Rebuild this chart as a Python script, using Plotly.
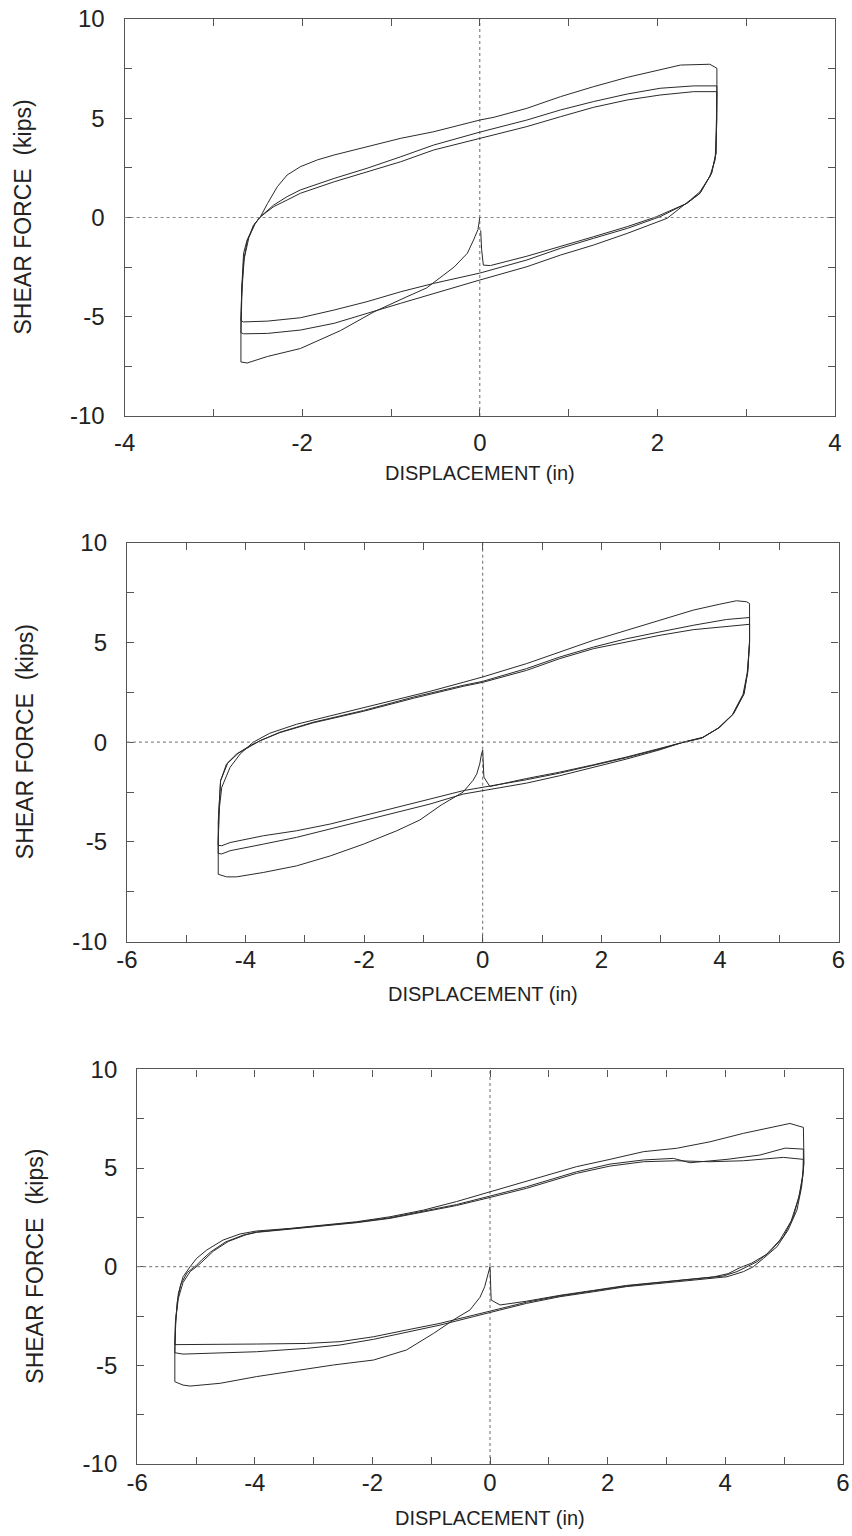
import plotly.graph_objects as go

# ---------------- Panel 1 (displacement range +-4 in) ----------------
p1_initial_x = [0, -0.02, -0.07, -0.14, -0.29, -0.44, -0.6, -0.82, -1.19, -1.57, -2.02, -2.39, -2.62, -2.69]
p1_initial_y = [0, -0.6, -1.13, -1.8, -2.5, -3.0, -3.55, -3.99, -4.75, -5.7, -6.6, -7.0, -7.33, -7.28]

p1_c1_up_x = [-2.69, -2.69, -2.68, -2.66, -2.62, -2.53, -2.47, -2.39, -2.28, -2.17, -2.02, -1.83, -1.64, -1.27, -0.89, -0.52, 0, 0.16, 0.53, 0.91, 1.28, 1.66, 2.03, 2.26, 2.59, 2.67]
p1_c1_up_y = [-7.28, -5.2, -3.5, -1.8, -1.13, -0.3, 0.04, 0.71, 1.55, 2.14, 2.56, 2.9, 3.15, 3.57, 3.99, 4.32, 4.91, 5.05, 5.5, 6.09, 6.59, 7.06, 7.43, 7.68, 7.72, 7.52]
p1_c1_dn_x = [2.67, 2.67, 2.65, 2.59, 2.48, 2.37, 2.18, 2.11, 1.66, 1.28, 0.91, 0.53, 0, -0.52, -0.89, -1.27, -1.64, -2.02, -2.39, -2.66, -2.69]
p1_c1_dn_y = [7.52, 4.91, 2.9, 2.06, 1.3, 0.88, 0.21, -0.04, -0.8, -1.39, -1.89, -2.48, -3.15, -3.82, -4.32, -4.83, -5.33, -5.67, -5.84, -5.86, -5.8]

p1_c2_up_x = [-2.69, -2.68, -2.66, -2.62, -2.55, -2.47, -2.32, -2.17, -2.02, -1.64, -1.27, -0.89, -0.52, 0, 0.53, 0.91, 1.28, 1.66, 2.03, 2.41, 2.67]
p1_c2_up_y = [-5.8, -4.0, -2.2, -1.2, -0.4, 0.04, 0.63, 1.05, 1.39, 1.97, 2.48, 3.06, 3.65, 4.3, 4.91, 5.42, 5.84, 6.22, 6.51, 6.63, 6.63]
p1_c2_dn_x = [2.67, 2.66, 2.61, 2.48, 2.33, 2.03, 1.66, 1.28, 0.91, 0.53, 0, -0.52, -0.89, -1.27, -1.64, -2.02, -2.39, -2.66, -2.69]
p1_c2_dn_y = [6.63, 3.23, 2.23, 1.22, 0.71, 0.04, -0.55, -1.05, -1.55, -2.14, -2.8, -3.32, -3.74, -4.24, -4.66, -5.05, -5.22, -5.26, -5.2]

p1_c3_up_x = [-2.69, -2.68, -2.65, -2.6, -2.53, -2.47, -2.32, -2.17, -2.02, -1.64, -1.27, -0.89, -0.52, 0, 0.53, 0.91, 1.28, 1.66, 2.03, 2.41, 2.67]
p1_c3_up_y = [-5.2, -3.5, -2.0, -1.0, -0.3, 0.04, 0.55, 0.88, 1.22, 1.8, 2.31, 2.81, 3.4, 4.0, 4.58, 5.08, 5.55, 5.92, 6.17, 6.34, 6.34]
p1_c3_dn_x = [2.67, 2.66, 2.61, 2.48, 2.33, 1.99, 1.66, 1.28, 0.91, 0.53, 0.12, 0.04, 0.02, 0.01]
p1_c3_dn_y = [6.34, 3.23, 2.23, 1.22, 0.71, 0.04, -0.46, -0.97, -1.47, -1.95, -2.42, -2.4, -1.6, -0.65]

# ---------------- Panel 2 (displacement range +-6 in) ----------------
p2_initial_x = [0, -0.02, -0.05, -0.1, -0.16, -0.33, -0.7, -1.06, -1.45, -2.01, -2.57, -3.14, -3.7, -4.15, -4.32, -4.46]
p2_initial_y = [-0.4, -0.59, -1.09, -1.59, -1.9, -2.5, -3.15, -3.9, -4.44, -5.11, -5.7, -6.2, -6.53, -6.75, -6.75, -6.62]

p2_c1_up_x = [-4.46, -4.46, -4.44, -4.4, -4.26, -4.09, -3.87, -3.59, -3.14, -2.57, -2.01, -1.45, -0.89, -0.33, 0, 0.74, 1.3, 1.87, 2.43, 2.99, 3.55, 4.0, 4.28, 4.45, 4.5]
p2_c1_up_y = [-6.62, -4.94, -3.27, -2.26, -1.26, -0.59, 0, 0.45, 0.9, 1.32, 1.72, 2.12, 2.55, 3.0, 3.27, 3.94, 4.52, 5.11, 5.61, 6.11, 6.62, 6.92, 7.09, 7.04, 6.95]
p2_c1_dn_x = [4.5, 4.5, 4.47, 4.41, 4.23, 4.0, 3.72, 3.38, 2.99, 2.43, 1.87, 1.3, 0.74, 0, -0.33, -0.89, -1.45, -2.01, -2.57, -3.14, -3.7, -4.26, -4.4, -4.46]
p2_c1_dn_y = [6.95, 5.11, 3.6, 2.43, 1.42, 0.75, 0.25, 0, -0.38, -0.84, -1.26, -1.68, -2.05, -2.45, -2.6, -3.1, -3.52, -3.94, -4.36, -4.77, -5.11, -5.44, -5.6, -5.58]

p2_c2_up_x = [-4.46, -4.46, -4.42, -4.32, -4.15, -3.92, -3.75, -3.42, -2.86, -2.01, -1.17, -0.33, 0, 0.74, 1.3, 1.87, 2.43, 2.99, 3.55, 4.11, 4.5]
p2_c2_up_y = [-5.58, -4.0, -1.93, -1.09, -0.59, -0.17, 0.08, 0.5, 1.0, 1.59, 2.26, 2.85, 3.05, 3.69, 4.27, 4.77, 5.19, 5.53, 5.86, 6.15, 6.25]
p2_c2_dn_x = [4.5, 4.5, 4.47, 4.4, 4.22, 3.98, 3.7, 3.36, 2.99, 2.43, 1.87, 1.3, 0.74, 0, -0.33, -0.89, -1.45, -2.01, -2.57, -3.14, -3.7, -4.26, -4.4, -4.46]
p2_c2_dn_y = [6.25, 5.0, 3.5, 2.4, 1.4, 0.72, 0.22, -0.02, -0.34, -0.77, -1.17, -1.55, -1.88, -2.25, -2.43, -2.85, -3.27, -3.69, -4.1, -4.44, -4.69, -5.03, -5.19, -5.17]

p2_c3_up_x = [-4.46, -4.45, -4.42, -4.3, -4.12, -3.9, -3.75, -3.42, -2.86, -2.01, -1.17, -0.33, 0, 0.74, 1.3, 1.87, 2.43, 2.99, 3.55, 4.11, 4.5]
p2_c3_up_y = [-5.17, -3.5, -1.93, -1.05, -0.55, -0.15, 0.08, 0.48, 0.97, 1.55, 2.2, 2.8, 3.0, 3.6, 4.19, 4.69, 5.03, 5.36, 5.64, 5.81, 5.91]
p2_c3_dn_x = [4.5, 4.5, 4.46, 4.39, 4.21, 3.97, 3.69, 3.35, 2.99, 2.43, 1.87, 1.3, 0.74, 0.12, 0.02, 0]
p2_c3_dn_y = [5.91, 4.9, 3.45, 2.4, 1.38, 0.7, 0.2, -0.03, -0.32, -0.74, -1.13, -1.5, -1.82, -2.22, -1.75, -0.4]

# ---------------- Panel 3 (displacement range +-6 in) ----------------
p3_initial_x = [0, -0.06, -0.09, -0.17, -0.34, -0.57, -0.96, -1.42, -1.98, -2.66, -3.4, -3.97, -4.59, -5.1, -5.22, -5.36]
p3_initial_y = [0, -0.68, -1.01, -1.55, -2.19, -2.6, -3.38, -4.22, -4.73, -4.98, -5.32, -5.57, -5.91, -6.05, -6.0, -5.83]

p3_c1_up_x = [-5.36, -5.36, -5.34, -5.3, -5.22, -5.1, -4.99, -4.82, -4.54, -4.25, -3.97, -3.4, -2.83, -2.27, -1.7, -1.13, -0.57, 0, 0.62, 1.47, 2.04, 2.61, 3.17, 3.74, 4.31, 4.71, 5.1, 5.33]
p3_c1_up_y = [-5.83, -4.05, -2.53, -1.35, -0.51, 0, 0.42, 0.84, 1.35, 1.66, 1.81, 1.94, 2.11, 2.28, 2.53, 2.87, 3.3, 3.8, 4.31, 5.07, 5.44, 5.83, 6.0, 6.33, 6.76, 7.01, 7.26, 7.06]
p3_c1_dn_x = [5.33, 5.34, 5.3, 5.22, 5.07, 4.88, 4.65, 4.48, 4.31, 4.03, 3.46, 2.89, 2.32, 1.76, 1.19, 0.62, 0, -0.28, -0.85, -1.42, -1.98, -2.55, -3.12, -3.97, -4.82, -5.22, -5.36]
p3_c1_dn_y = [7.06, 5.24, 4.05, 2.87, 1.86, 1.01, 0.42, 0, -0.25, -0.51, -0.68, -0.84, -1.01, -1.27, -1.52, -1.86, -2.3, -2.53, -2.96, -3.34, -3.68, -3.97, -4.14, -4.31, -4.39, -4.43, -4.36]

p3_c2_up_x = [-5.36, -5.35, -5.32, -5.26, -5.15, -5.0, -4.9, -4.75, -4.5, -4.2, -3.97, -3.4, -2.83, -2.27, -1.7, -1.13, -0.57, 0, 0.62, 1.47, 2.04, 2.61, 3.12, 3.4, 4.03, 4.59, 4.88, 5.02, 5.33]
p3_c2_up_y = [-4.36, -3.0, -1.8, -0.9, -0.3, 0.05, 0.35, 0.75, 1.25, 1.6, 1.76, 1.92, 2.08, 2.25, 2.48, 2.8, 3.15, 3.58, 4.05, 4.81, 5.2, 5.41, 5.49, 5.27, 5.44, 5.66, 5.88, 6.01, 5.96]
p3_c2_dn_x = [5.33, 5.33, 5.27, 5.16, 4.99, 4.76, 4.54, 4.37, 4.2, 3.97, 3.46, 2.89, 2.32, 1.76, 1.19, 0.62, 0, -0.28, -0.85, -1.42, -1.98, -2.55, -3.12, -3.97, -4.82, -5.36]
p3_c2_dn_y = [5.96, 4.9, 3.72, 2.53, 1.52, 0.76, 0.25, 0, -0.25, -0.47, -0.64, -0.8, -0.98, -1.23, -1.48, -1.8, -2.25, -2.45, -2.87, -3.21, -3.55, -3.8, -3.89, -3.92, -3.92, -3.95]

p3_c3_up_x = [-5.36, -5.35, -5.3, -5.22, -5.1, -4.95, -4.85, -4.7, -4.45, -4.15, -3.97, -3.4, -2.83, -2.27, -1.7, -1.13, -0.57, 0, 0.62, 1.47, 2.04, 2.61, 3.17, 3.74, 4.31, 4.99, 5.33]
p3_c3_up_y = [-3.95, -2.8, -1.6, -0.8, -0.25, 0.1, 0.4, 0.8, 1.28, 1.62, 1.74, 1.9, 2.06, 2.23, 2.45, 2.77, 3.1, 3.51, 3.97, 4.73, 5.1, 5.32, 5.37, 5.32, 5.37, 5.54, 5.44]
p3_c3_dn_x = [5.33, 5.32, 5.25, 5.12, 4.93, 4.7, 4.45, 4.25, 4.05, 3.8, 3.46, 2.89, 2.32, 1.76, 1.19, 0.62, 0.17, 0.02, 0]
p3_c3_dn_y = [5.44, 4.6, 3.5, 2.3, 1.35, 0.62, 0.18, -0.05, -0.35, -0.52, -0.62, -0.78, -0.95, -1.2, -1.45, -1.75, -1.94, -1.69, 0]

# ---------------- axis ticks ----------------
p1_xticks = [-4, -3, -2, -1, 0, 1, 2, 3, 4]
p1_xlabels = ["-4", "", "-2", "", "0", "", "2", "", "4"]
p23_xticks = [-6, -5, -4, -3, -2, -1, 0, 1, 2, 3, 4, 5, 6]
p23_xlabels = ["-6", "", "-4", "", "-2", "", "0", "", "2", "", "4", "", "6"]
yticks = [-10, -7.5, -5, -2.5, 0, 2.5, 5, 7.5, 10]
ylabels = ["-10", "", "-5", "", "0", "", "5", "", "10"]

x_title = "DISPLACEMENT (in)"
y_title = "SHEAR FORCE  (kips)"

panels = [
    dict(branches=[(p1_initial_x, p1_initial_y), (p1_c1_up_x, p1_c1_up_y), (p1_c1_dn_x, p1_c1_dn_y),
                   (p1_c2_up_x, p1_c2_up_y), (p1_c2_dn_x, p1_c2_dn_y), (p1_c3_up_x, p1_c3_up_y),
                   (p1_c3_dn_x, p1_c3_dn_y)],
         xr=[-4, 4], xt=p1_xticks, xl=p1_xlabels, xstand=5,
         px=(124.6, 835.0), py=(19.0, 416.0), xtitle_y=473, ytitle_x=22),
    dict(branches=[(p2_initial_x, p2_initial_y), (p2_c1_up_x, p2_c1_up_y), (p2_c1_dn_x, p2_c1_dn_y),
                   (p2_c2_up_x, p2_c2_up_y), (p2_c2_dn_x, p2_c2_dn_y), (p2_c3_up_x, p2_c3_up_y),
                   (p2_c3_dn_x, p2_c3_dn_y)],
         xr=[-6, 6], xt=p23_xticks, xl=p23_xlabels, xstand=-4,
         px=(126.9, 838.5), py=(542.7, 941.7), xtitle_y=994, ytitle_x=25),
    dict(branches=[(p3_initial_x, p3_initial_y), (p3_c1_up_x, p3_c1_up_y), (p3_c1_dn_x, p3_c1_dn_y),
                   (p3_c2_up_x, p3_c2_up_y), (p3_c2_dn_x, p3_c2_dn_y), (p3_c3_up_x, p3_c3_up_y),
                   (p3_c3_dn_x, p3_c3_dn_y)],
         xr=[-6, 6], xt=p23_xticks, xl=p23_xlabels, xstand=-3,
         px=(137.2, 842.8), py=(1069.4, 1464.0), xtitle_y=1518, ytitle_x=35),
]

W, H = 852, 1536
fig = go.Figure()
tick_font = dict(family="Liberation Sans, Arial", size=24, color="#222")
frame = "#555"

for i, p in enumerate(panels, start=1):
    xs, ys = [], []
    for bx, by in p["branches"]:
        xs += bx
        ys += by
    xa = "x" if i == 1 else f"x{i}"
    ya = "y" if i == 1 else f"y{i}"
    fig.add_trace(go.Scatter(x=xs, y=ys, mode="lines", xaxis=xa, yaxis=ya,
                             line=dict(color="#2a2a2a", width=1.0), showlegend=False, hoverinfo="skip"))
    xd = [p["px"][0] / W, p["px"][1] / W]
    yd = [1 - p["py"][1] / H, 1 - p["py"][0] / H]
    common = dict(showgrid=False, zeroline=False, showline=True, linecolor=frame, linewidth=1.2,
                  mirror="ticks", ticks="inside", ticklen=7, tickwidth=1, tickcolor=frame,
                  tickfont=tick_font, tickmode="array", automargin=False)
    fig.update_layout(**{
        ("xaxis" if i == 1 else f"xaxis{i}"): dict(domain=xd, range=p["xr"], tickvals=p["xt"], ticktext=p["xl"],
                                                   anchor=ya, ticklabelstandoff=p["xstand"], **common),
        ("yaxis" if i == 1 else f"yaxis{i}"): dict(domain=yd, range=[-10, 10], tickvals=yticks, ticktext=ylabels,
                                                   anchor=xa, ticklabelstandoff=14, **common),
    })
    # reference lines at zero
    fig.add_shape(type="line", xref=f"{xa} domain", yref=ya, x0=0, x1=1, y0=0, y1=0,
                  line=dict(color="#8a8a8a", width=1.2, dash="dot"))
    fig.add_shape(type="line", xref=xa, yref=f"{ya} domain", x0=0, x1=0, y0=0, y1=1,
                  line=dict(color="#444", width=0.8, dash="3px,3px"))
    # axis titles
    fig.add_annotation(text=x_title, xref="paper", yref="paper",
                       x=(xd[0] + xd[1]) / 2, y=1 - p["xtitle_y"] / H, showarrow=False,
                       font=dict(family="Liberation Sans, Arial", size=20, color="#222"),
                       xanchor="center", yanchor="middle")
    fig.add_annotation(text=y_title, xref="paper", yref="paper", textangle=-90,
                       x=p["ytitle_x"] / W, y=(yd[0] + yd[1]) / 2, showarrow=False,
                       font=dict(family="Liberation Sans, Arial", size=23, color="#222"),
                       xanchor="center", yanchor="middle")

fig.update_layout(width=W, height=H, autosize=False, margin=dict(l=0, r=0, t=0, b=0),
                  paper_bgcolor="white", plot_bgcolor="white")

fig.write_html("out.html", config={"displayModeBar": False},
               post_script="document.body.style.margin='0px';")
